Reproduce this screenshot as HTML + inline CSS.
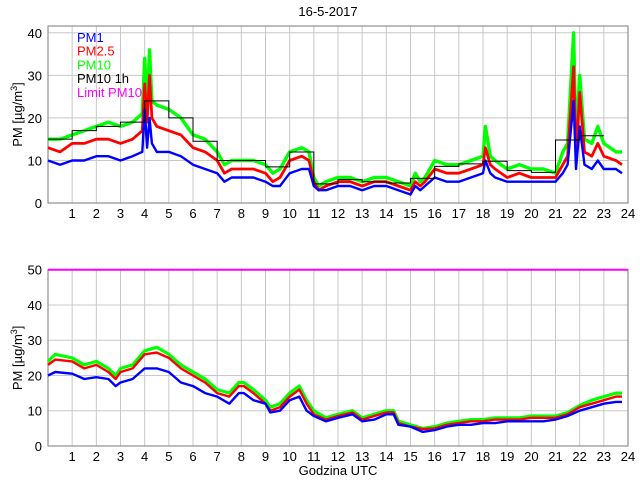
<!DOCTYPE html>
<html><head><meta charset="utf-8"><style>
body{margin:0;background:#fff;}
svg text{font-family:"Liberation Sans",sans-serif;font-size:13px;fill:#000;}
</style></head><body>
<svg id="chart" width="640" height="480" xmlns="http://www.w3.org/2000/svg">
<text x="328" y="16" text-anchor="middle">16-5-2017</text>
<g id="top"></g>
<g id="bot"></g>
<text x="338" y="475" text-anchor="middle">Godzina UTC</text>
</svg>
<script>
const hourTicks=[1,2,3,4,5,6,7,8,9,10,11,12,13,14,15,16,17,18,19,20,21,22,23,24];
const topYTicks=[0,10,20,30,40];
const botYTicks=[0,10,20,30,40,50];
const topTimes=[0,0.5,1,1.5,2,2.5,3,3.5,3.9,4.0,4.1,4.2,4.3,4.5,5,5.5,6,6.5,7,7.3,7.6,8,8.5,9,9.3,9.6,10,10.5,10.8,11,11.2,11.5,12,12.5,13,13.5,14,14.5,15,15.2,15.4,15.6,16,16.5,17,17.5,18,18.1,18.3,18.5,19,19.5,20,20.5,21,21.3,21.5,21.75,21.85,22,22.2,22.5,22.75,23,23.5,23.75];
const topPM10=[15,15,16,17,18,19,18,19,21,34,22,36,24,23,22,20,16,15,12,9,10,10,10,9,7,8,12,13,12,6,4,5,6,6,5,6,6,5,4,7,5,6,10,9,9,10,11,18,11,10,8,9,8,8,7,12,14,40,14,30,15,14,18,14,12,12];
const topPM25=[13,12,14,14,15,15,14,15,17,28,19,30,20,18,17,16,13,12,10,7,8,8,8,7,5,6,10,11,10,5,3,4,5,5,4,5,5,4,3,5,4,5,8,7,7,8,9,13,9,8,6,7,6,6,6,9,11,32,11,26,12,11,14,11,10,9];
const topPM1=[10,9,10,10,11,11,10,11,12,22,13,20,14,12,12,11,9,8,7,5,6,6,6,5,4,4,7,8,8,4,3,3,4,4,3,4,4,3,2,4,3,4,6,5,5,6,7,10,7,6,5,5,5,5,5,7,9,24,8,18,9,8,10,8,8,7];
const hourlyPM10=[15,17,18,19,24,20,14.5,10,10,8.5,12,4.5,5.5,5,4.7,5.8,8.6,9.2,9.8,7.6,7.2,14.8,15.8];
const botTimes=[0,0.3,1,1.5,2,2.5,2.8,3,3.5,4,4.5,5,5.5,6,6.5,7,7.5,7.9,8.1,8.5,9,9.2,9.6,10,10.4,10.7,11,11.5,12,12.6,13,13.5,14,14.3,14.5,15,15.5,16,16.5,17,17.5,18,18.5,19,19.5,20,20.5,21,21.5,22,22.5,23,23.5,23.75];
const botPM10=[24,26,25,23,24,22,20,22,23,27,28,26,23,21,19,16,15,18,18,16,13,11,12,15,17,13,10,8,9,10,8,9,10,10,7,6,5,5.5,6.5,7,7.5,7.5,8,8,8,8.5,8.5,8.5,9.5,11.5,13,14,15,15];
const botPM25=[23,24.5,24,22,23,21,19,21,22,26,26.5,25,22,20,18,15,14,17,17,15,12,10,11,14,16,12,9,7.5,8.5,9.5,7.5,8.5,9.5,9.5,6.5,5.5,4.8,5,6,6.5,7,7,7.5,7.5,7.5,8,8,8,9,11,12,13,14,14];
const botPM1=[20,21,20.5,19,19.5,19,17,18,19,22,22,21,18,17,15,14,12,15,15,13,12,9.5,10,13,14,10,8.5,7,8,9,7,7.5,9,9,6,5.5,4,4.5,5.5,6,6,6.5,6.5,7,7,7,7,7.5,8.5,10,11,12,12.5,12.5];
const limitPM10=50;

const NS="http://www.w3.org/2000/svg";
const X0=48,X1=628;
const xs=h=>X0+(X1-X0)*h/24;
function mk(parent,tag,attrs){const e=document.createElementNS(NS,tag);for(const k in attrs)e.setAttribute(k,attrs[k]);parent.appendChild(e);return e;}

function panel(g,top,bot,ymax,yticks,name){
  const ys=v=>bot-(bot-top)*v/ymax;
  yticks.forEach(v=>{
    const l=mk(g,'line',{x1:X0,x2:X1,y1:ys(v),y2:ys(v),stroke:'#c8c8c8','stroke-width':1});
    
    
    const t=mk(g,'text',{x:X0-6,y:ys(v)+5,'text-anchor':'end'});t.textContent=v;
    
    
  });
  hourTicks.forEach(h=>{
    const l=mk(g,'line',{x1:xs(h),x2:xs(h),y1:top,y2:bot,stroke:'#c8c8c8','stroke-width':1});
    
    
    const t=mk(g,'text',{x:xs(h),y:bot+15,'text-anchor':'middle'});t.textContent=h;
    
    
  });
  const r=mk(g,'rect',{x:X0,y:top,width:X1-X0,height:bot-top,fill:'none',stroke:'#909090','stroke-width':1.2});
  
  
  const yl=mk(g,'text',{x:0,y:0,transform:`translate(22,${(top+bot)/2}) rotate(-90)`,'text-anchor':'middle'});
  yl.innerHTML='PM [µg/m<tspan dy="-5" font-size="9">3</tspan><tspan dy="5">]</tspan>';
  
  
  return ys;
}
function series(g,times,vals,ys,color,name,w){
  const d=times.map((t,i)=>(i?'L':'M')+xs(t).toFixed(1)+','+ys(vals[i]).toFixed(1)).join('');
  const p=mk(g,'path',{d:d,fill:'none',stroke:color,'stroke-width':w,'stroke-linejoin':'round'});
  
  
}
const gt=document.getElementById('top'),gb=document.getElementById('bot');
const yt=panel(gt,26,203,41.6,topYTicks,'top');
series(gt,topTimes,topPM10,yt,'#00ff00','top-pm10-line',3.4);
series(gt,topTimes,topPM25,yt,'#ff0000','top-pm25-line',2.8);
series(gt,topTimes,topPM1,yt,'#0000ff','top-pm1-line',2.4);
let sd='';
hourlyPM10.forEach((v,i)=>{sd+=(i?'L':'M')+xs(i)+','+yt(v)+'L'+xs(i+1)+','+yt(v);});
const sp=mk(gt,'path',{d:sd,fill:'none',stroke:'#000','stroke-width':1});


const leg=[['PM1','#0000ff'],['PM2.5','#ff0000'],['PM10','#00ff00'],['PM10 1h','#000'],['Limit PM10','#ff00ff']];
leg.forEach((e,i)=>{
  const t=mk(gt,'text',{x:77,y:42+i*13.7,fill:e[1],style:'fill:'+e[1]});t.textContent=e[0];
  
  
});
const yb=panel(gb,269.7,446,50,botYTicks,'bottom');
series(gb,botTimes,botPM10,yb,'#00ff00','bottom-pm10-line',3.2);
series(gb,botTimes,botPM25,yb,'#ff0000','bottom-pm25-line',2.4);
series(gb,botTimes,botPM1,yb,'#0000ff','bottom-pm1-line',2.4);
const lim=mk(gb,'line',{x1:X0,x2:X1,y1:yb(limitPM10),y2:yb(limitPM10),stroke:'#ff00ff','stroke-width':2});


</script>
</body></html>
